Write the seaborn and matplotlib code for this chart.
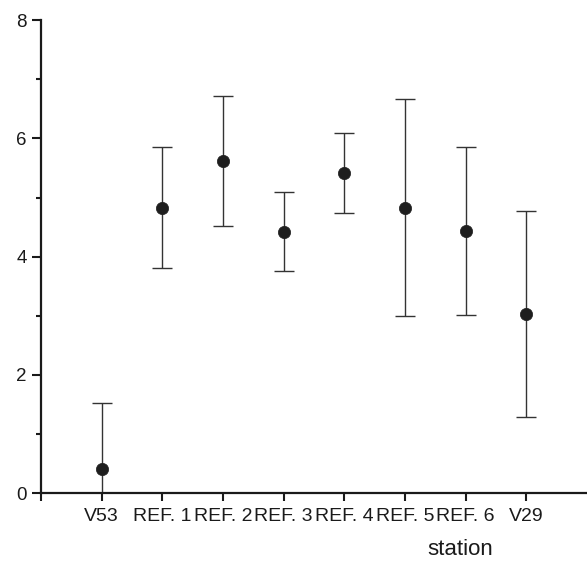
import matplotlib
matplotlib.use("Agg")
import matplotlib.pyplot as plt
import numpy as np
import pandas as pd
import seaborn as sns

stations = ["V53", "REF. 1", "REF. 2", "REF. 3", "REF. 4", "REF. 5", "REF. 6", "V29"]
means = [0.41, 4.83, 5.62, 4.42, 5.42, 4.83, 4.43, 3.03]
errors = [1.11, 1.03, 1.10, 0.67, 0.68, 1.84, 1.42, 1.75]

df = pd.DataFrame({"station": stations, "value": means, "err": errors})

sns.set_style("ticks")
plt.rcParams["font.family"] = ["Liberation Sans", "DejaVu Sans"]

fig = plt.figure(figsize=(5.87, 5.61), dpi=100)
ax = fig.add_axes([0.070, 0.121, 0.930, 0.843])

# error bars first, then the dots on top
ax.errorbar(np.arange(len(df)), df["value"], yerr=df["err"], fmt="none",
            ecolor="#333333", elinewidth=1.0, capsize=7.2, capthick=1.0,
            clip_on=True, zorder=2)
sns.scatterplot(x=np.arange(len(df)), y=df["value"], ax=ax, s=78,
                color="#1e1e1e", edgecolor="#1e1e1e", linewidth=0.5,
                zorder=3, legend=False)

ax.set_xlim(-1, 8)
ax.set_ylim(0, 8)
ax.set_xticks(range(-1, len(df)))
ax.set_xticklabels([""] + stations)
ax.set_yticks([0, 2, 4, 6, 8])
ax.set_yticks([1, 3, 5, 7], minor=True)

for side in ["top", "right"]:
    ax.spines[side].set_visible(False)
for side in ["left", "bottom"]:
    ax.spines[side].set_linewidth(1.6)
    ax.spines[side].set_color("#1a1a1a")

ax.tick_params(axis="x", direction="out", length=6, width=1.5,
               labelsize=14, pad=5, colors="#1a1a1a")
ax.tick_params(axis="y", which="major", direction="out", length=6.5,
               width=1.5, labelsize=13.5, pad=4, colors="#1a1a1a")
ax.tick_params(axis="y", which="minor", direction="out", length=3.5,
               width=1.5, colors="#1a1a1a")

ax.set_xlabel("station", fontsize=16, color="#1a1a1a")
ax.xaxis.set_label_coords(0.768, -0.098)
ax.set_ylabel("")

fig.savefig("out.png", dpi=100)
